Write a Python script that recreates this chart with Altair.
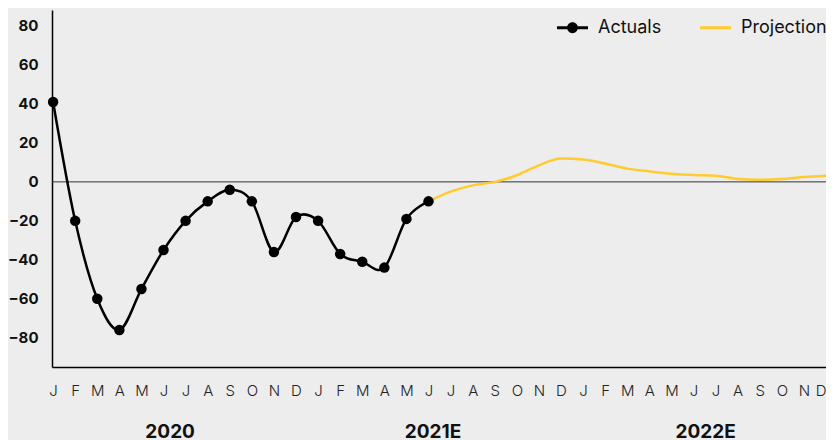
import altair as alt
import pandas as pd

MONTH_LETTERS = ["J", "F", "M", "A", "M", "J", "J", "A", "S", "O", "N", "D"]
YEARS = ["2020", "2021E", "2022E"]
YEAR_CENTER = [5.3, 17.2, 29.55]

# Actuals: Jan 2020 .. Jun 2021 (month index 0..17)
actual_values = [41, -20, -60, -76, -55, -35, -20, -10, -4, -10, -36, -18,
                 -20, -37, -41, -44, -19, -10]
# Projection: Jun 2021 .. Dec 2022 (month index 17..35)
projection_values = [-10, -5, -1.8, 0, 3.4, 8.5, 12,
                     11.5, 9.4, 6.8, 5.4, 4.2, 3.5, 3.2, 1.5, 1.1, 1.5, 2.5, 3.2]

SERIES = ["Actuals", "Projection"]
COLORS = ["#000000", "#FFCB2F"]
Y_TICKS = [-80, -60, -40, -20, 0, 20, 40, 60, 80]

act = pd.DataFrame({"m": list(range(18)), "v": actual_values, "series": "Actuals"})
proj = pd.DataFrame({"m": list(range(17, 36)), "v": projection_values, "series": "Projection"})
years = pd.DataFrame({"m": YEAR_CENTER, "label": YEARS})
zero = pd.DataFrame({"v": [0]})

W, H = 774, 357

x_scale = alt.Scale(domain=[-0.05, 35], nice=False, zero=False)
y_scale = alt.Scale(domain=[-95, 88.2], nice=False, zero=False)

month_expr = "[" + ",".join("'%s'" % m for m in MONTH_LETTERS) + "][datum.value % 12]"

x_axis = alt.Axis(values=list(range(36)), labelExpr=month_expr, ticks=False, tickSize=0,
                  labelPadding=16, labelFontSize=15, labelFont="Inter", labelFontWeight=300,
                  labelColor="#222222", domainColor="#000000", domainWidth=1.5, grid=False,
                  title=None, labelAngle=0, labelOverlap=False, labelFlush=0.5)
y_axis = alt.Axis(values=Y_TICKS, ticks=False, tickSize=0, labelPadding=14, labelFontSize=15,
                  labelFont="Inter", labelFontWeight="bold", labelColor="#111111",
                  domainColor="#000000", domainWidth=1.5, grid=False, title=None)

P_ACT = ("M-1,-0.1L1,-0.1L1,0.1L-1,0.1Z "
         "M-0.35,0A0.35,0.35 0 1,1 0.35,0A0.35,0.35 0 1,1 -0.35,0Z")
P_PROJ = "M-1,-0.1L1,-0.1L1,0.1L-1,0.1Z"

legend = alt.Legend(
    orient="none", legendX=505, legendY=2, direction="horizontal", title=None,
    symbolSize=961, labelFontSize=18, labelFont="Inter", labelColor="#111111",
    labelOffset=10, columnPadding=38, padding=0,
    symbolType=alt.ExprRef("datum.value === 'Actuals' ? '%s' : '%s'" % (P_ACT, P_PROJ)),
    symbolFillColor=alt.ExprRef("datum.value === 'Actuals' ? '%s' : '%s'" % (COLORS[0], COLORS[1])),
    symbolStrokeWidth=0, symbolOpacity=1,
)

color = alt.Color("series:N", scale=alt.Scale(domain=SERIES, range=COLORS), legend=legend)

x = alt.X("m:Q", scale=x_scale, axis=x_axis)
y = alt.Y("v:Q", scale=y_scale, axis=y_axis)

zero_rule = alt.Chart(zero).mark_rule(color="#333333", strokeWidth=1).encode(
    y=alt.Y("v:Q", scale=y_scale, axis=y_axis)
)

proj_line = alt.Chart(proj).mark_line(interpolate="monotone", strokeWidth=2.5).encode(
    x=x, y=y, color=color
)
act_line = alt.Chart(act).mark_line(interpolate="cardinal", strokeWidth=2.5).encode(
    x=x, y=y, color=color
)
act_pts = alt.Chart(act).mark_point(filled=True, size=110, opacity=1).encode(
    x=x, y=y, color=alt.value("#000000")
)
year_text = alt.Chart(years).mark_text(font="Inter", fontWeight="bold", fontSize=19,
                                      color="#111111", baseline="alphabetic", align="center").encode(
    x=x, y=alt.value(428), text="label:N"
)

chart = alt.layer(zero_rule, proj_line, act_line, act_pts, year_text).properties(
    width=W, height=H,
    autosize=alt.AutoSizeParams(type="none"),
    padding={"left": 44, "top": 2, "right": 0, "bottom": 73},
).configure(background="#EDEDED").configure_view(stroke=None)

chart.save("out.html", embed_options={"renderer": "svg", "actions": False})
